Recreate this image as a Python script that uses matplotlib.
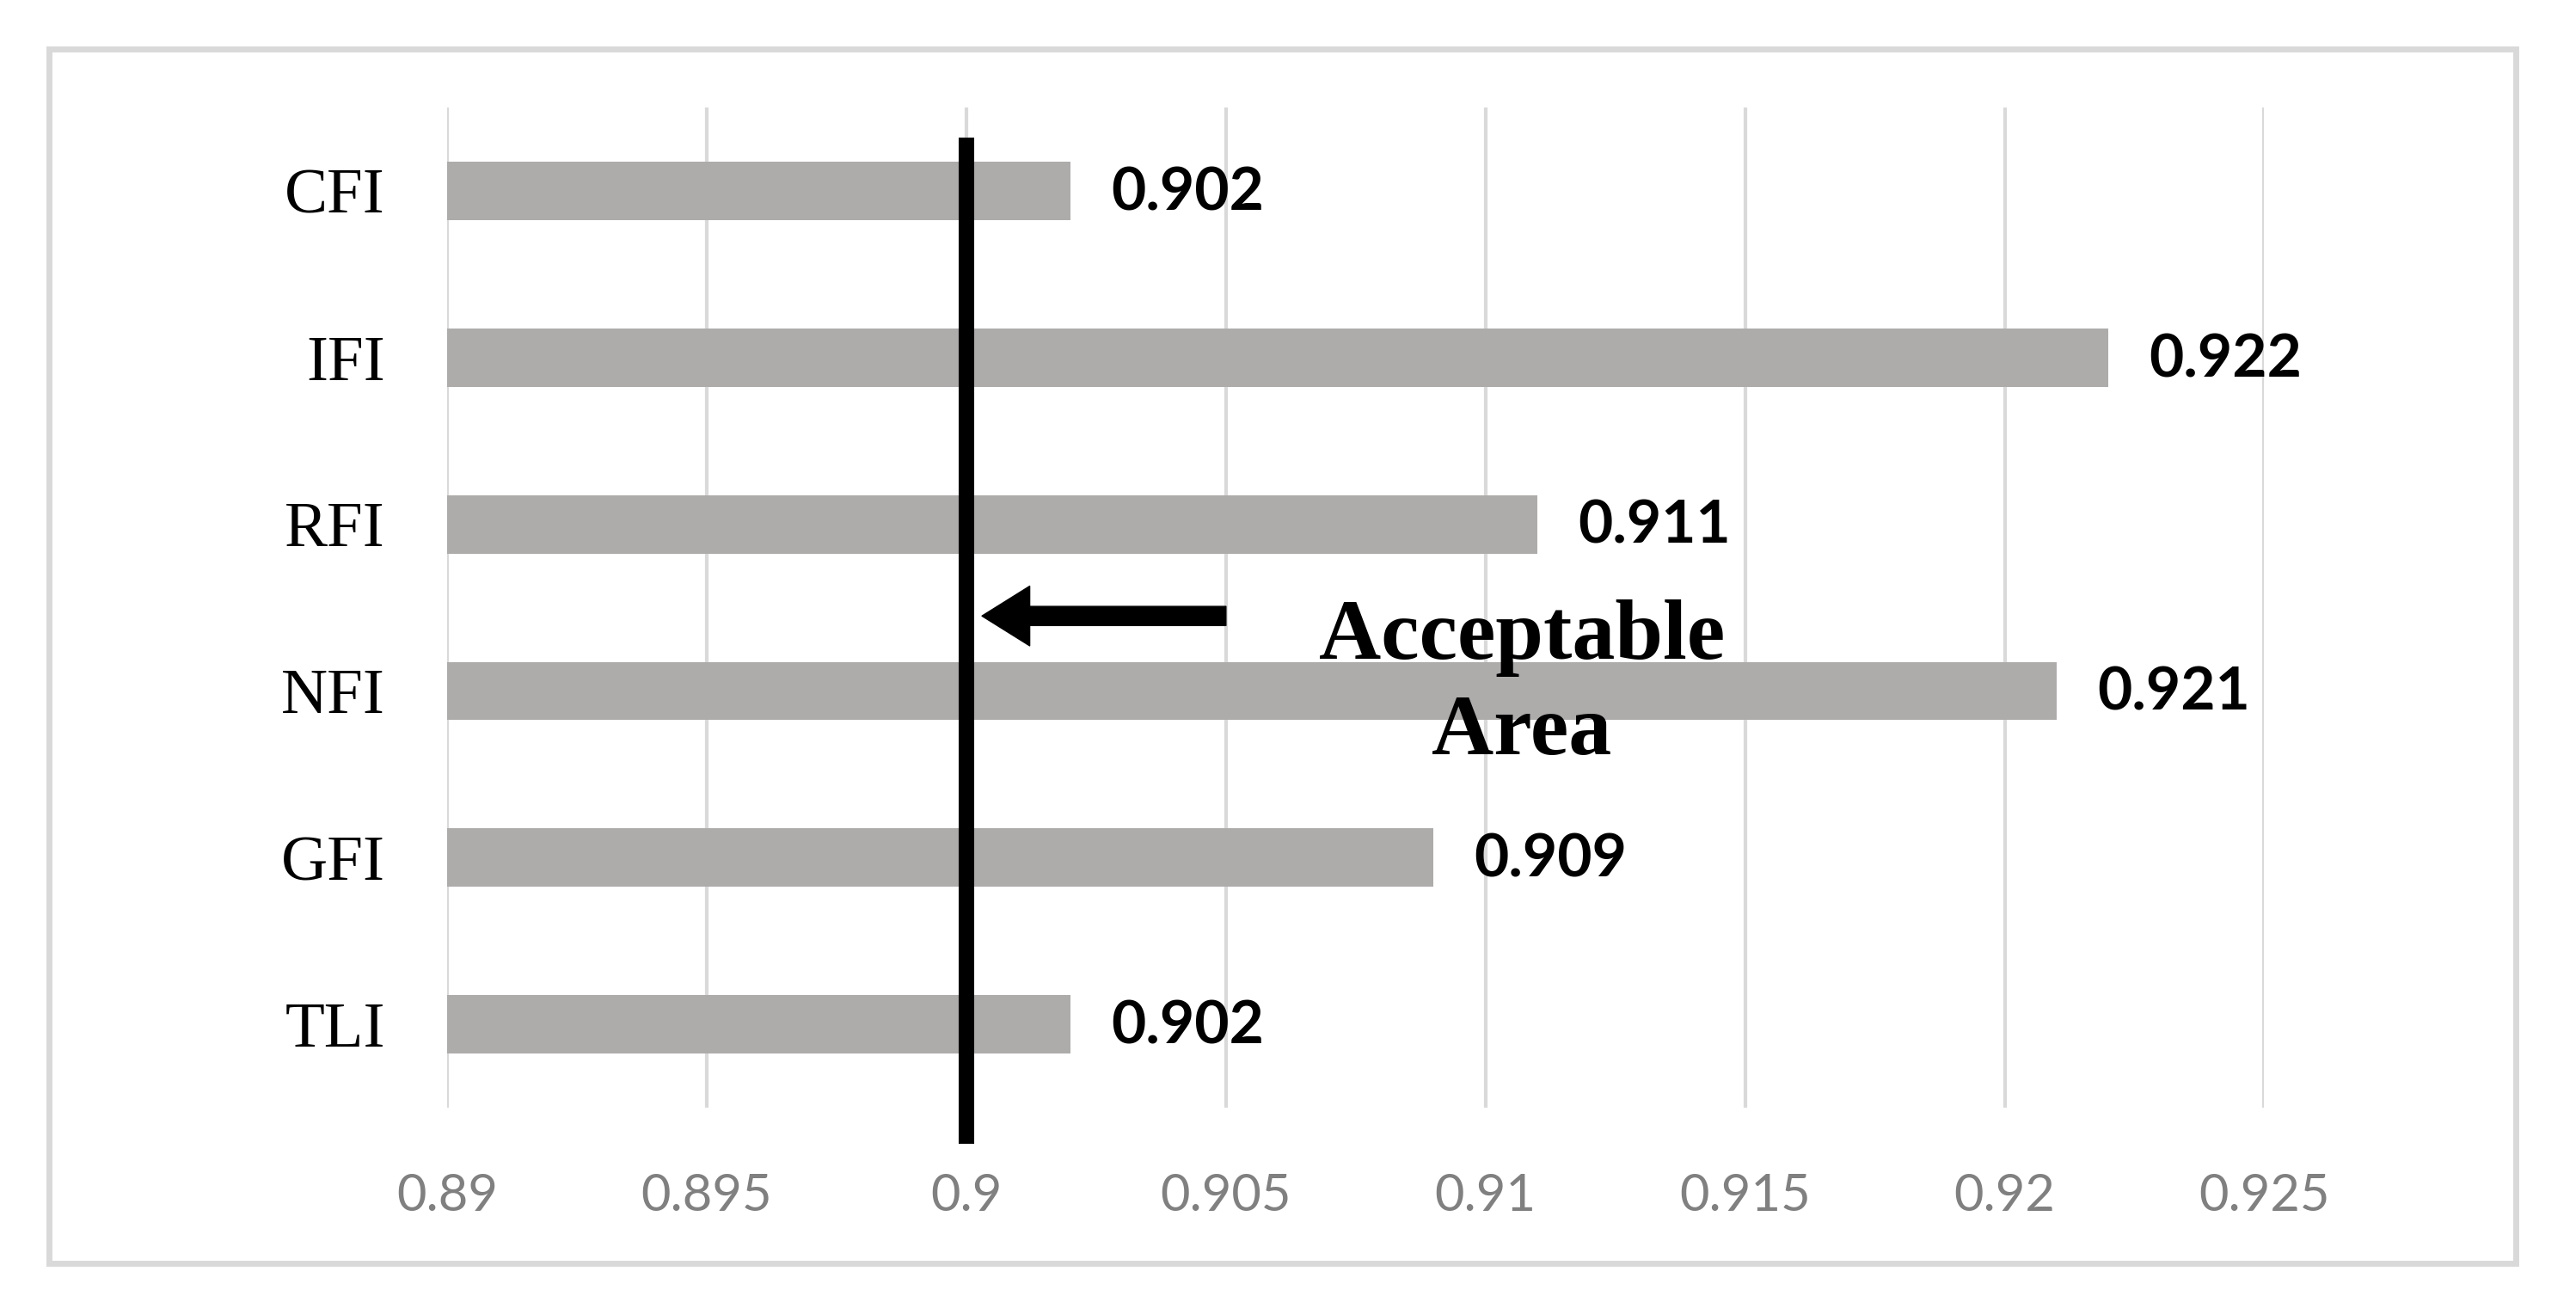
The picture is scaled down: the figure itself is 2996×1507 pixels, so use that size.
import matplotlib
matplotlib.use('Agg')
import matplotlib.pyplot as plt
import matplotlib.patches as mpatches

# fit indices, top to bottom as in the figure
indices = ['CFI', 'IFI', 'RFI', 'NFI', 'GFI', 'TLI']
values = [0.902, 0.922, 0.911, 0.921, 0.909, 0.902]
threshold = 0.9
x_ticks = [0.89, 0.895, 0.9, 0.905, 0.91, 0.915, 0.92, 0.925]
x_ticklabels = ['0.89', '0.895', '0.9', '0.905', '0.91', '0.915', '0.92', '0.925']

bar_color = '#AEABAB'
grid_color = '#D9D9D9'

fig = plt.figure(figsize=(29.96, 15.07), dpi=100)
ax = fig.add_axes([0.1736, 0.1453, 0.7054, 0.7717])

# light grey frame round the whole chart
frame = mpatches.Rectangle((0.019, 0.0252), 0.9576, 0.937, transform=fig.transFigure,
                           fill=False, edgecolor=grid_color, linewidth=5)
fig.patches.append(frame)

ypos = list(range(len(indices)))
bars = ax.barh(ypos, [v - x_ticks[0] for v in values], left=x_ticks[0], height=0.35,
               color=bar_color, zorder=2)

ax.set_xlim(x_ticks[0], x_ticks[-1])
ax.set_ylim(len(indices) - 0.5, -0.5)

ax.set_xticks(x_ticks)
ax.set_xticklabels(x_ticklabels, fontsize=43, color='#808080', family='Lato')
ax.set_yticks(ypos)
ax.set_yticklabels(indices, fontsize=54, family='Liberation Serif', color='black')
ax.tick_params(axis='both', length=0)
ax.tick_params(axis='x', pad=55)
ax.tick_params(axis='y', pad=52)

ax.grid(axis='x', color=grid_color, linewidth=3, zorder=0)
ax.grid(axis='y', visible=False)
for s in ax.spines.values():
    s.set_visible(False)

# value labels next to each bar
for rect, v in zip(bars, values):
    ax.annotate(f'{v:.3f}', xy=(v, rect.get_y() + rect.get_height() / 2),
                xytext=(34, -2), textcoords='offset points', ha='left', va='center',
                fontsize=50, fontweight='bold', family='Lato', color='black')

# threshold line (runs a bit past the plot area like in the original)
ax.axvline(threshold, ymin=-0.028, ymax=0.962, color='black', linewidth=13,
           clip_on=False, zorder=4)

ax.annotate('', xy=(0.9003, 2.55), xytext=(0.905, 2.55),
            arrowprops=dict(facecolor='black', edgecolor='black', width=16,
                            headwidth=50, headlength=40, shrink=0), zorder=5)

ax.text(0.9107, 2.97, 'Acceptable\nArea', ha='center', va='center', multialignment='center',
        fontsize=72, fontweight='bold', family='Liberation Serif', linespacing=1.3, zorder=5)

plt.savefig('out.png', dpi=100)
